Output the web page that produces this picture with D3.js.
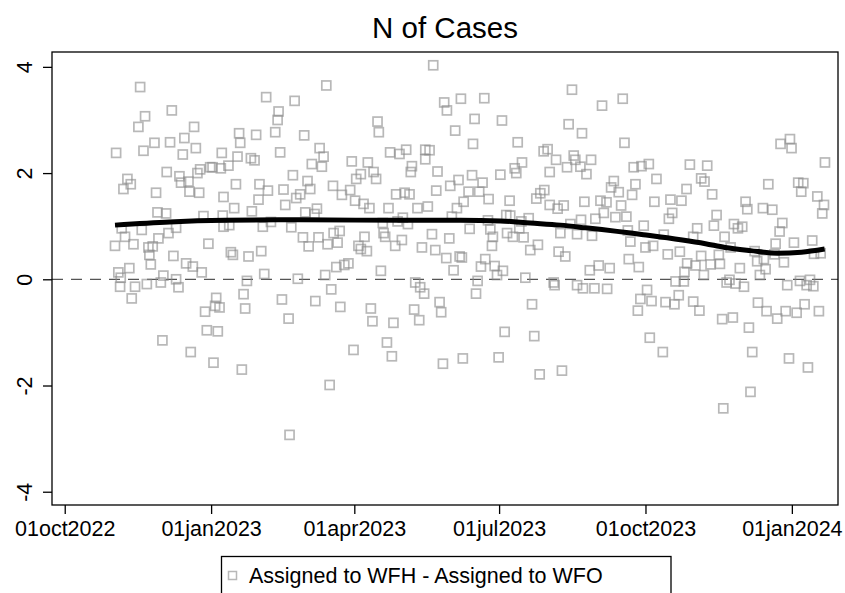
<!DOCTYPE html>
<html>
<head>
<meta charset="utf-8">
<script src="https://cdn.jsdelivr.net/npm/d3@7"></script>
<style>
  body { margin: 0; background: #fff; }
  text { font-family: Arial, "Liberation Sans", sans-serif; fill: #000; }
</style>
</head>
<body>
<div id="chart"></div>
<script>
// day number counted from 01oct2022, value = WFH - WFO
const startDate = "2022-10-01";
const days = [
  47.4,67.3,50.5,46.3,81.3,56.4,66.2,75.2,32.3,49.5,74.2,82.4,98.7,39.4,41.5,36.9,64.1,72.1,73.1,77.8,83.4,85.1,91.4,92.9,98.1,57.4,78.4,84.5,99.8,58.3,63.7,87.2,99.3,99.8,35.8,48.4,37.9,31.6,43.2,58.9,65.2,70.0,52.6,55.3,53.2,90.3,68.3,54.1,76.3,80.5,86.1,33.7,40.6,35.2,34.8,44.2,51.6,62.0,60.4,70.0,71.5,42.1,95.2,94.5,97.3,88.2,89.3,96.2,61.4,79.2,93.5,
  164.4,126.6,144.5,134.4,133.8,109.6,120.3,132.3,150.5,110.3,135.4,108.6,117.0,119.3,102.9,160.2,162.7,155.3,161.6,143.4,107.6,122.4,127.7,137.5,152.6,154.3,148.0,145.5,168.6,174.2,121.8,138.6,106.5,117.6,158.5,151.2,157.0,103.4,124.5,129.6,142.4,149.7,159.5,153.3,165.2,171.5,172.8,169.0,104.4,105.7,115.5,123.5,125.4,114.5,146.5,163.7,170.7,175.7,112.4,167.5,113.4,136.5,157.5,173.2,140.7,111.3,166.5,141.3,
  231.6,238.5,249.0,240.2,196.6,197.4,245.4,204.5,210.4,214.6,226.6,229.3,226.6,180.4,190.5,218.2,217.5,234.3,186.1,194.1,195.7,183.2,247.5,242.3,179.4,233.5,208.3,213.6,216.7,182.5,187.8,191.5,203.5,221.7,228.2,246.5,250.7,243.3,212.5,199.9,209.2,215.7,200.4,201.4,188.4,211.9,230.8,241.7,184.6,186.1,189.9,207.7,224.5,232.9,239.8,248.2,249.6,244.4,178.3,198.7,220.3,223.4,225.9,235.6,236.6,192.4,193.4,219.6,222.8,206.6,202.5,181.5,205.6,237.7,250.2,
  318.8,263.7,257.6,274.8,316.7,325.1,256.6,284.7,301.0,303.5,308.8,287.4,282.8,283.8,304.8,315.7,319.9,320.9,324.1,273.8,256.0,262.6,253.8,260.5,266.4,279.6,296.4,298.9,301.4,304.8,309.8,313.6,326.6,254.5,266.0,277.5,280.0,287.0,291.6,267.5,278.0,281.7,285.7,288.4,269.1,268.5,297.4,292.6,311.5,317.8,322.0,324.5,310.4,314.6,264.3,261.6,270.2,275.4,271.7,259.5,289.5,307.3,307.9,322.0,325.7,258.5,293.7,276.5,295.1,272.7,298.5,312.5,
  350.7,337.7,351.8,330.8,327.9,357.6,362.5,367.1,371.9,392.9,400.0,402.1,345.1,343.4,348.2,358.7,356.6,390.8,336.7,340.5,349.7,370.6,380.7,387.6,338.8,333.5,346.1,353.0,363.9,381.8,379.7,397.5,395.0,331.4,353.9,355.5,365.0,369.8,376.5,379.0,386.6,400.0,354.5,360.8,330.0,335.6,342.5,391.2,396.4,389.5,401.7,383.9,389.1,332.9,340.9,366.0,361.8,368.8,360.2,377.6,383.2,385.9,395.0,398.9,367.7,375.9,
  449.9,455.8,456.8,477.8,403.8,406.9,442.2,461.0,464.2,462.9,473.0,477.2,476.1,427.9,429.0,438.8,444.7,409.7,408.0,420.6,423.1,425.8,451.0,449.3,414.7,418.5,411.1,405.9,411.8,433.6,435.2,439.4,424.3,440.5,436.9,446.8,446.1,452.0,458.3,469.8,470.9,475.1,417.8,416.0,421.6,426.9,454.1,462.1,468.4,466.3,470.5,413.2,419.9,430.0,435.7,441.1,447.8,453.1,460.0,465.0,474.0,432.1,455.2,467.1,431.0,413.9
];
const diffs = [
  3.62,3.18,3.07,2.87,2.87,2.57,2.58,2.66,2.38,2.42,2.35,2.47,2.38,1.89,1.79,1.70,2.02,1.94,1.82,1.84,2.00,2.07,2.11,2.11,2.09,1.63,1.65,1.63,1.55,1.26,1.24,1.19,1.20,0.99,0.96,0.93,0.80,0.63,0.66,0.77,0.87,0.97,0.60,0.62,0.46,0.67,0.44,0.28,0.30,0.24,0.13,0.13,0.21,0.03,-0.14,-0.14,-0.09,0.07,-0.06,0.00,-0.15,-0.36,-0.35,-0.50,-0.53,-0.61,-0.96,-0.98,-1.15,-1.37,-1.57,
  3.65,3.43,3.36,3.16,3.00,2.75,2.72,2.77,2.71,2.57,2.39,2.31,2.28,2.24,2.14,2.47,2.31,2.17,2.12,1.96,1.79,1.79,1.67,1.69,1.85,1.70,1.60,1.53,1.76,1.59,1.50,1.40,1.34,1.28,1.33,1.26,1.23,1.02,0.99,1.08,0.98,0.79,0.79,0.62,0.66,0.69,0.91,0.87,0.51,0.46,0.43,0.53,0.10,-0.03,0.01,0.08,0.23,0.27,-0.28,-0.19,-0.55,-0.38,-0.41,-0.52,-0.74,-1.70,-1.99,-2.93,
  4.03,3.33,3.40,3.18,2.97,2.77,2.80,2.39,2.36,2.44,2.44,2.43,2.26,2.22,2.20,2.13,2.02,2.03,1.98,2.02,1.89,1.89,1.87,1.76,1.68,1.67,1.60,1.63,1.60,1.48,1.42,1.34,1.34,1.34,1.37,1.34,1.46,1.18,1.16,1.06,1.09,1.04,0.87,0.80,0.80,0.74,0.85,0.77,0.63,0.57,0.53,0.63,0.60,0.55,0.40,0.43,0.41,0.17,0.30,0.16,-0.06,-0.15,-0.27,-0.43,-0.62,-0.55,-0.79,-0.57,-0.77,-0.82,-1.19,-1.33,-1.45,-1.59,-1.49,
  3.57,3.41,3.02,2.99,2.92,2.75,2.55,2.58,2.41,2.45,2.25,2.20,2.09,2.00,2.02,2.11,2.33,2.25,2.12,1.97,1.96,1.82,1.65,1.65,1.51,1.48,1.52,1.62,1.68,1.40,1.33,1.39,1.46,0.95,1.11,1.21,1.20,1.09,1.15,0.94,0.87,0.80,0.96,0.79,0.80,0.63,0.65,0.55,0.87,1.04,0.85,1.12,0.52,0.43,0.38,0.24,0.25,0.16,0.08,-0.03,0.03,-0.06,-0.11,-0.11,-0.17,-0.27,-0.47,-0.99,-1.07,-1.47,-1.79,-1.72,
  3.40,3.27,2.57,2.25,1.98,2.11,2.13,2.17,1.89,2.16,1.90,1.84,1.85,1.73,1.64,1.79,1.59,1.70,1.48,1.45,1.39,1.46,1.50,1.48,1.25,1.14,1.17,1.18,1.01,1.25,1.14,0.96,0.80,0.82,0.92,0.71,0.60,0.63,0.84,0.47,0.52,0.44,0.38,0.23,0.17,0.26,0.21,0.30,0.26,0.14,0.08,-0.04,-0.04,-0.17,-0.18,-0.20,-0.37,-0.41,-0.59,-0.43,-0.47,-0.30,-0.42,-0.59,-1.10,-1.37,
  2.55,2.64,2.47,2.20,2.14,1.60,1.79,1.82,1.81,1.65,1.56,1.40,1.24,1.46,1.32,1.34,1.31,1.21,1.01,1.04,0.96,0.99,1.06,0.90,0.80,0.60,0.46,0.28,0.29,0.53,0.34,0.38,0.21,0.19,0.08,0.67,0.47,0.32,0.69,0.73,0.48,0.49,-0.01,-0.06,-0.08,-0.14,-0.11,-0.03,-0.01,-0.11,-0.13,-0.75,-0.72,-0.91,-0.44,-0.60,-0.74,-0.60,-0.63,-0.47,-0.60,-1.37,-1.49,-1.66,-2.12,-2.43
];

// smoothed fit
const fitDays = [31.6, 66, 100.8, 148, 211, 248.6, 273.8, 292.6, 311.5, 327.2, 363.7, 402.7, 415, 431, 448, 463, 477.6];
const fitValues = [1.02, 1.08, 1.11, 1.12, 1.11, 1.11, 1.10, 1.06, 1.02, 0.97, 0.84, 0.67, 0.60, 0.54, 0.49, 0.51, 0.57];

const xTickDates = ["2022-10-01", "2023-01-01", "2023-04-01", "2023-07-01", "2023-10-01", "2024-01-01"];
const yTickValues = [-4, -2, 0, 2, 4];
const chartTitle = "N of Cases";
const legendLabel = "Assigned to WFH - Assigned to WFO";

var margin = { top: 52, right: 7, bottom: 88, left: 52 },
  width = 845 - margin.left - margin.right,
  height = 593 - margin.top - margin.bottom;

const parse = d3.utcParse("%Y-%m-%d");
const start = parse(startDate);
const dayToDate = d => new Date(start.getTime() + d * 864e5);

let root = d3.select("#chart")
  .append("svg")
  .attr("width", 845)
  .attr("height", 593);

root.append("rect")
  .attr("width", 845)
  .attr("height", 593)
  .attr("fill", "#fff");

let svg = root.append("g")
  .attr("transform", "translate(" + margin.left + "," + margin.top + ")");

let x = d3.scaleUtc()
  .domain([parse("2022-09-23"), parse("2024-01-30")])
  .range([0, width]);

let y = d3.scaleLinear().domain([-4.25, 4.28]).range([height, 0]);

// zero reference line
svg.append("line")
  .attr("x1", 0)
  .attr("x2", width)
  .attr("y1", y(0))
  .attr("y2", y(0))
  .attr("stroke", "#555")
  .attr("stroke-width", 1.2)
  .attr("stroke-dasharray", "11,8");

// scatter
let pts = days.map((d, i) => ({ date: dayToDate(d), v: diffs[i] }));
svg.append("g")
  .selectAll("rect")
  .data(pts)
  .join("rect")
  .attr("x", d => x(d.date) - 4.5)
  .attr("y", d => y(d.v) - 4.5)
  .attr("width", 9)
  .attr("height", 9)
  .attr("fill", "none")
  .attr("stroke", "#888")
  .attr("stroke-opacity", 0.6)
  .attr("stroke-width", 1.7);

// smooth line
let fit = fitDays.map((d, i) => ({ date: dayToDate(d), v: fitValues[i] }));
svg.append("path")
  .datum(fit)
  .attr("fill", "none")
  .attr("stroke", "#000")
  .attr("stroke-width", 5)
  .attr("d", d3.line()
    .x(d => x(d.date))
    .y(d => y(d.v))
    .curve(d3.curveMonotoneX));

// frame
svg.append("rect")
  .attr("width", width)
  .attr("height", height)
  .attr("fill", "none")
  .attr("stroke", "#000")
  .attr("stroke-width", 1.3);

// axes
let fmt = d3.utcFormat("%d%b%Y");
let xAxis = svg.append("g")
  .attr("transform", "translate(0," + height + ")")
  .call(d3.axisBottom(x)
    .tickValues(xTickDates.map(parse))
    .tickFormat(d => fmt(d).toLowerCase())
    .tickSize(9)
    .tickPadding(7));

let yAxis = svg.append("g")
  .call(d3.axisLeft(y)
    .tickValues(yTickValues)
    .tickFormat(d => String(d))
    .tickSize(9));

[xAxis, yAxis].forEach(a => {
  a.select(".domain").remove();
  a.selectAll(".tick line").attr("stroke", "#000").attr("stroke-width", 1.3);
  a.selectAll("text").style("font-size", "21.5px").attr("fill", "#000");
});

yAxis.selectAll("text")
  .attr("x", null)
  .attr("dy", null)
  .attr("text-anchor", "middle")
  .attr("transform", "translate(-20,0) rotate(-90)");

// title
root.append("text")
  .attr("x", 445)
  .attr("y", 38)
  .attr("text-anchor", "middle")
  .style("font-size", "29.5px")
  .text(chartTitle);

// legend
let legend = root.append("g");
legend.append("rect")
  .attr("x", 221.5)
  .attr("y", 556.5)
  .attr("width", 449.5)
  .attr("height", 60)
  .attr("fill", "#fff")
  .attr("stroke", "#000")
  .attr("stroke-width", 1.3);
legend.append("rect")
  .attr("x", 228.5)
  .attr("y", 571.5)
  .attr("width", 8)
  .attr("height", 8)
  .attr("fill", "none")
  .attr("stroke", "#888")
  .attr("stroke-opacity", 0.6)
  .attr("stroke-width", 1.5);
legend.append("text")
  .attr("x", 249)
  .attr("y", 583)
  .style("font-size", "21.5px")
  .text(legendLabel);
</script>
</body>
</html>
